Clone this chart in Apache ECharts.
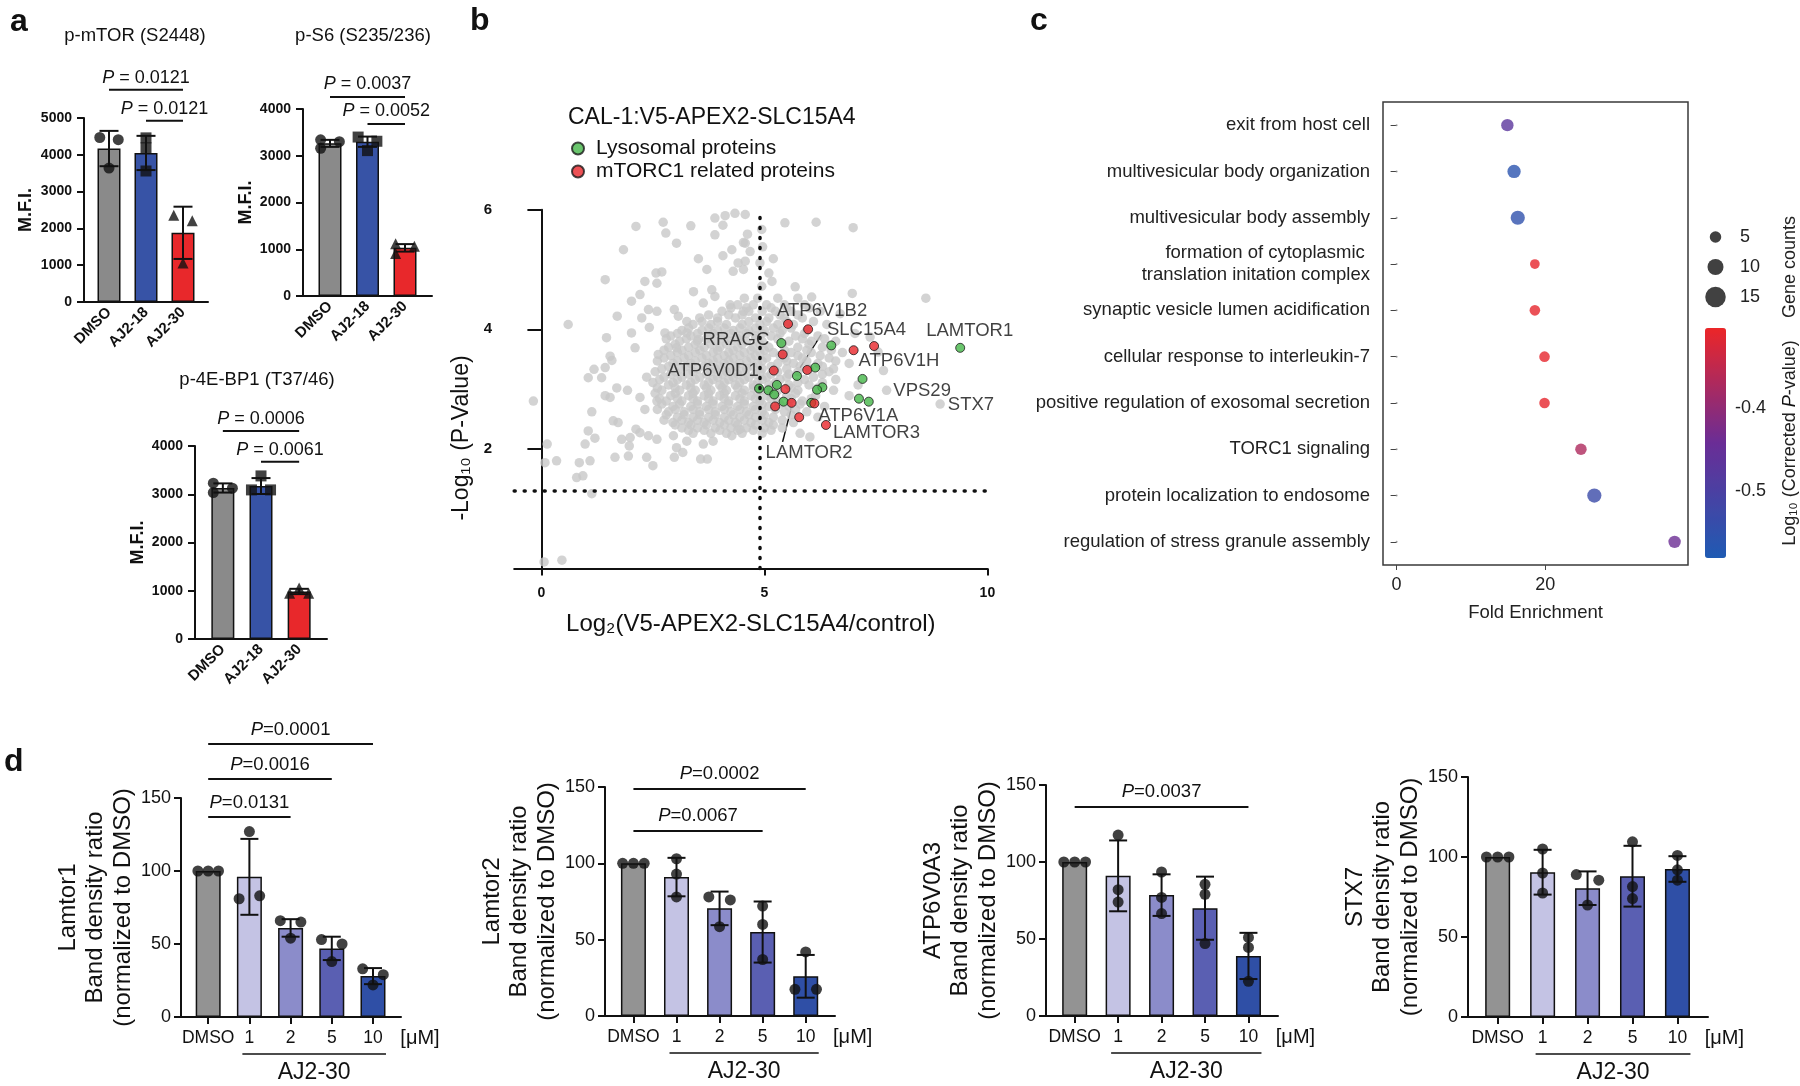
<!DOCTYPE html>
<html>
<head>
<meta charset="utf-8">
<title>AJ2-30 / SLC15A4 figure</title>
<script src="https://cdn.jsdelivr.net/npm/echarts@6/dist/echarts.min.js"></script>
<style>
  html, body { margin: 0; padding: 0; background: #fff; }
  #chart { width: 1800px; height: 1086px; }
</style>
</head>
<body>
<div id="chart"></div>
<script>
// ---------- panel a : M.F.I. per treatment ----------
const aGroups = ['DMSO', 'AJ2-18', 'AJ2-30'];

const mtorMean = [4170, 4050, 1880];
const mtorSd = [480, 465, 710];
const mtorPts = [[4470, 4410, 3640], [4460, 4190, 3560], [2360, 2210, 1060]];
const mtorSlots = [[-1, 1, 0], [0, 0, 0], [-1, 1, 0]];
const mtorSig = [[0, 2, '0.0121'], [1, 2, '0.0121']];

const s6Mean = [3265, 3300, 1030];
const s6Sd = [75, 110, 80];
const s6Pts = [[3340, 3160, 3300], [3400, 3310, 3110], [1120, 1065, 910]];
const s6Slots = [[-1, -1, 1], [-1, 1, 0], [-1, 1, -1]];
const s6Sig = [[0, 2, '0.0037'], [1, 2, '0.0052']];

const bp1Mean = [3130, 3170, 985];
const bp1Sd = [95, 165, 55];
const bp1Pts = [[3230, 3035, 3125], [3380, 3090, 3090], [950, 1055, 950]];
const bp1Slots = [[-1, -1, 1], [0, -1, 1], [-1, 0, 1]];
const bp1Sig = [[0, 2, '0.0006'], [1, 2, '0.0061']];

// ---------- panel b : proximity labelling volcano ----------
// sparse grey proteins [log2 ratio, -log10 p]
const grayPts = [
  [2.12, 5.72], [2.73, 5.79], [2.79, 5.61], [3.35, 5.73], [3.03, 5.44], [1.84, 5.33], [3.89, 5.86], [4.12, 5.90],
  [4.34, 5.94], [4.57, 5.92], [4.07, 5.74], [3.89, 5.58], [4.57, 5.44], [4.27, 5.33], [4.07, 5.23], [4.41, 5.11],
  [4.53, 5.00], [4.30, 4.97], [3.52, 5.18], [3.71, 5.00], [1.43, 4.83], [2.57, 4.94], [2.70, 4.96], [2.32, 4.80],
  [2.59, 4.77], [3.41, 4.63], [3.82, 4.66], [3.89, 4.55], [3.63, 4.44], [2.21, 4.58], [2.02, 4.47], [2.40, 4.33],
  [2.59, 4.30], [1.70, 4.22], [2.25, 4.19], [2.98, 4.33], [3.07, 4.22], [3.26, 4.13], [4.23, 4.41], [4.53, 4.30],
  [0.60, 4.08], [2.42, 4.03], [2.77, 3.94], [2.02, 3.94], [1.46, 3.86], [3.26, 3.94], [3.52, 3.83], [2.10, 3.69],
  [3.03, 3.69], [1.54, 3.55], [1.58, 3.48], [2.62, 3.58], [1.18, 3.33], [1.43, 3.36], [1.05, 3.19], [1.35, 3.19],
  [2.36, 3.20], [1.69, 3.02], [1.93, 2.98], [-0.18, 2.80], [1.43, 2.89], [1.54, 2.86], [2.21, 2.86], [2.32, 2.66],
  [2.59, 2.80], [1.13, 2.62], [1.61, 2.47], [1.72, 2.44], [2.12, 2.33], [2.21, 2.27], [1.05, 2.30], [1.20, 2.18],
  [1.80, 2.16], [1.99, 2.19], [2.40, 2.22], [2.59, 2.16], [1.97, 2.05], [0.98, 2.08], [0.13, 2.08], [0.34, 1.80],
  [0.08, 1.77], [0.85, 1.77], [1.09, 1.80], [1.65, 1.86], [1.95, 1.88], [2.36, 1.86], [2.50, 1.72], [2.98, 1.86],
  [3.17, 1.94], [3.57, 1.83], [3.72, 1.83], [0.79, 1.52], [0.93, 1.55], [1.13, 1.25], [0.06, 0.11], [0.46, 0.14],
  [4.27, 2.22], [4.45, 2.33], [3.85, 2.13], [3.63, 2.08], [3.26, 2.13], [2.96, 2.22], [3.03, 2.02],
  [5.46, 5.78], [6.16, 5.79], [6.99, 5.70], [8.62, 4.52], [4.62, 5.59], [4.53, 5.45], [4.57, 5.14], [4.68, 5.30],
  [5.20, 5.18], [5.69, 4.71], [6.06, 4.54], [6.70, 4.26], [7.03, 3.93], [7.37, 3.87], [7.55, 3.62], [7.67, 3.31],
  [6.02, 2.20], [5.10, 4.94], [4.94, 4.72], [5.17, 4.80], [6.97, 4.60], [4.90, 5.11], [4.96, 5.38], [4.94, 5.67]
];
// dense grey core, read row by row: [-log10 p, [log2 ratios...]]
const grayCoreRows = [
  [4.52, [4.55, 4.85, 5.3, 5.75]],
  [4.41, [4.4, 4.75, 5.05, 5.45, 5.9]],
  [4.36, [4.25, 4.6, 5.15, 5.5, 6.0]],
  [4.30, [4.05, 4.65, 4.95, 5.25, 5.6, 6.25]],
  [4.24, [3.75, 4.2, 4.5, 5.35, 5.75]],
  [4.19, [3.55, 3.95, 4.35, 4.8, 5.1, 5.45, 5.85]],
  [4.13, [3.6, 3.95, 4.65, 5.05, 5.5, 6.1]],
  [4.08, [3.4, 3.8, 4.15, 4.5, 4.9, 5.3, 5.65, 6.4]],
  [4.02, [3.3, 3.75, 4.1, 4.45, 4.8, 5.2, 5.6]],
  [3.98, [3.15, 3.6, 3.95, 4.3, 4.65, 5.0, 5.4, 5.95]],
  [3.93, [3.05, 3.5, 3.85, 4.25, 4.6, 4.95, 5.35, 5.9]],
  [3.89, [2.9, 3.35, 3.75, 4.1, 4.45, 4.8, 5.15, 5.7, 6.2]],
  [3.84, [2.8, 3.25, 3.7, 4.05, 4.4, 4.8, 5.3, 5.85, 6.35]],
  [3.80, [3.1, 3.5, 3.9, 4.25, 4.6, 4.95, 5.55, 6.05, 6.6]],
  [3.75, [3.0, 3.45, 3.8, 4.15, 4.5, 4.9, 5.4, 6.0]],
  [3.70, [2.85, 3.3, 3.65, 4.0, 4.4, 4.75, 5.1, 5.75, 6.3]],
  [3.65, [2.75, 3.15, 3.55, 3.95, 4.3, 4.7, 5.0, 5.45, 5.95, 6.5]],
  [3.61, [3.05, 3.45, 3.85, 4.2, 4.55, 4.9, 5.2, 5.6, 6.05, 6.75]],
  [3.56, [2.9, 3.3, 3.7, 4.1, 4.45, 4.8, 5.35, 5.75, 6.25]],
  [3.52, [2.75, 3.2, 3.6, 3.95, 4.3, 4.7, 5.05, 5.45, 5.85, 6.45]],
  [3.47, [2.6, 3.05, 3.45, 3.85, 4.2, 4.6, 4.95, 5.5, 5.95, 6.6]],
  [3.43, [2.95, 3.35, 3.75, 4.1, 4.45, 4.85, 5.3, 5.65, 6.2, 6.9]],
  [3.38, [2.85, 3.25, 3.65, 4.0, 4.35, 4.75, 5.15, 5.8, 6.3]],
  [3.34, [2.7, 3.1, 3.5, 3.9, 4.25, 4.6, 4.95, 5.5, 6.0, 6.55]],
  [3.29, [2.55, 3.0, 3.4, 3.8, 4.15, 4.5, 4.9, 5.3, 5.75, 6.45]],
  [3.25, [2.9, 3.3, 3.7, 4.05, 4.4, 4.8, 5.15, 5.55, 6.3]],
  [3.20, [2.75, 3.15, 3.55, 3.95, 4.3, 4.65, 5.05, 5.5, 6.1]],
  [3.16, [2.65, 3.05, 3.45, 3.85, 4.2, 4.55, 4.95, 5.35, 5.9, 6.6]],
  [3.11, [2.5, 2.95, 3.35, 3.75, 4.1, 4.45, 4.85, 5.25, 5.75, 6.3]],
  [3.07, [2.85, 3.25, 3.65, 4.0, 4.35, 4.75, 5.1, 5.55, 6.0, 7.1]],
  [3.02, [2.6, 3.0, 3.35, 3.7, 4.05, 4.4, 4.75, 5.15, 5.6, 6.2]],
  [2.98, [2.7, 3.1, 3.45, 3.8, 4.15, 4.55, 4.9, 5.3, 5.75, 6.55]],
  [2.93, [2.55, 3.0, 3.4, 3.75, 4.1, 4.5, 4.85, 5.25, 5.7]],
  [2.89, [2.9, 3.3, 3.65, 4.0, 4.35, 4.7, 5.05, 5.5, 6.15, 6.9]],
  [2.84, [2.65, 3.05, 3.4, 3.75, 4.1, 4.45, 4.8, 5.15, 5.6, 6.05]],
  [2.80, [2.8, 3.15, 3.5, 3.85, 4.2, 4.55, 4.9, 5.3, 5.85]],
  [2.75, [2.7, 3.1, 3.5, 3.85, 4.2, 4.55, 4.95, 5.35, 5.8]],
  [2.71, [2.95, 3.35, 3.7, 4.05, 4.4, 4.75, 5.1, 5.55, 6.35]],
  [2.66, [2.6, 3.0, 3.4, 3.75, 4.1, 4.45, 4.8, 5.25, 5.7]],
  [2.62, [2.85, 3.2, 3.55, 3.9, 4.25, 4.6, 4.95, 5.45, 5.95]],
  [2.57, [2.8, 3.2, 3.55, 3.9, 4.3, 4.65, 5.0, 5.6]],
  [2.53, [3.05, 3.4, 3.75, 4.1, 4.45, 4.8, 5.2, 6.2]],
  [2.48, [2.75, 3.15, 3.5, 3.85, 4.2, 4.55, 4.95, 5.4]],
  [2.44, [2.95, 3.3, 3.65, 4.0, 4.35, 4.7, 5.1, 5.65]],
  [2.40, [3.0, 3.35, 3.7, 4.1, 4.4, 4.8, 5.2]],
  [2.35, [3.15, 3.5, 3.9, 4.25, 4.6, 5.0, 5.4]],
  [2.31, [3.3, 3.65, 4.0, 4.4, 4.75, 5.15]],
  [2.26, [3.4, 3.8, 4.15, 4.5, 4.95, 5.8]]
];
const grayNamed = [[7.74, 2.98, 'VPS29'], [8.94, 2.75, 'STX7']];
const lysoPts = [
  [5.38, 3.77, 'RRAGC'], [6.50, 3.73, ''], [9.39, 3.69, 'LAMTOR1'], [6.14, 3.36, ''], [5.73, 3.22, 'SLC15A4'],
  [7.20, 3.17, ''], [5.28, 3.07, ''], [4.88, 3.01, ''], [5.09, 2.98, ''], [5.22, 2.91, ''], [6.30, 3.03, ''],
  [6.18, 2.99, ''], [7.12, 2.84, ''], [7.34, 2.79, ''], [5.43, 2.79, ''], [6.05, 2.77, '']
];
const mtorcPts = [
  [5.53, 4.09, 'ATP6V1B2'], [5.98, 4.00, ''], [7.46, 3.72, ''], [7.00, 3.65, 'ATP6V1H'], [5.41, 3.58, ''],
  [5.21, 3.31, 'ATP6V0D1'], [5.96, 3.32, ''], [5.47, 3.00, ''], [5.24, 2.71, ''], [5.61, 2.77, 'LAMTOR2'],
  [6.12, 2.76, 'ATP6V1A'], [5.78, 2.53, ''], [6.38, 2.40, 'LAMTOR3']
];
const foldCut = 4.9;
const pCut = 1.3;

// ---------- panel c : GO enrichment ----------
const goTerms = [
  'exit from host cell', 'multivesicular body organization', 'multivesicular body assembly',
  'formation of cytoplasmic \ntranslation initation complex', 'synaptic vesicle lumen acidification',
  'cellular response to interleukin-7', 'positive regulation of exosomal secretion', 'TORC1 signaling',
  'protein localization to endosome', 'regulation of stress granule assembly'
];
const goFold = [14.9, 15.8, 16.3, 18.6, 18.6, 19.9, 19.9, 24.8, 26.6, 37.4];
const goCounts = [6, 7, 8, 3, 4, 4, 4, 5, 8, 6];
const goLogP = [-0.47, -0.56, -0.55, -0.31, -0.31, -0.31, -0.31, -0.37, -0.53, -0.44];
const sizeKey = [5, 10, 15];

// ---------- panel d : band density ----------
const dDoses = ['DMSO', '1', '2', '5', '10'];

const lamtor1Mean = [100, 96, 61, 47, 28];
const lamtor1Sd = [0, 26, 6, 8, 5.5];
const lamtor1Pts = [[100, 100, 100], [127, 81, 83], [66, 65, 54], [53, 50, 38], [33, 29, 22]];
const lamtor1Slots = [[-1, 0, 1], [0, -1, 1], [-1, 1, 0], [-1, 1, 0], [-1, 1, 0]];
const lamtor1Sig = [[0, 4, '0.0001'], [0, 3, '0.0016'], [0, 2, '0.0131']];

const lamtor2Mean = [100, 91, 70.5, 55, 26];
const lamtor2Sd = [0, 12.6, 11, 20, 14];
const lamtor2Pts = [[100, 100, 100], [103, 93, 78], [78, 76, 58.5], [72, 60, 37], [42, 17.5, 17.5]];
const lamtor2Slots = [[-1, 0, 1], [0, 0, 0], [-1, 1, 0], [0, 0, 0], [0, -1, 1]];
const lamtor2Sig = [[0, 4, '0.0002'], [0, 3, '0.0067']];

const atpMean = [100, 91, 78.5, 70, 39];
const atpSd = [0, 23, 13.5, 20.5, 15];
const atpPts = [[100, 100, 100], [117.5, 82, 74], [93.5, 77, 66.5], [85.5, 79, 47], [51, 44.5, 22.5]];
const atpSlots = [[-1, 0, 1], [0, 0, 0], [0, 0, 0], [0, 0, 0], [0, 0, 0]];
const atpSig = [[0, 4, '0.0037']];

const stx7Mean = [100, 90.5, 80.5, 88, 92.5];
const stx7Sd = [0, 14, 10.5, 19, 8];
const stx7Pts = [[100, 100, 100], [105, 90, 77.5], [89, 85.5, 70], [109.5, 81.5, 74], [101, 92, 85.5]];
const stx7Slots = [[-1, 0, 1], [0, 0, 0], [-1, 1, 0], [0, 0, 0], [0, 0, 0]];

// ---------- styling ----------
const INK = '#111';
const FONT = '"Liberation Sans", Arial, Helvetica, sans-serif';
const aColors = ['#8a8a8a', '#3753a6', '#e8282b'];
const aShapes = ['circle', 'rect', 'triangle'];
const dColors = ['#939393', '#c4c3e4', '#8b8cca', '#5a5fb2', '#2f4fa6'];
const lineSt = { color: INK, width: 2 };

const chart = echarts.init(document.getElementById('chart'), null, { renderer: 'canvas' });
const grids = [], xAxes = [], yAxes = [], series = [];

function errorBars(cap) {
  return function (params, api) {
    const x = api.value(0), m = api.value(1), s = api.value(2);
    if (!s) return { type: 'group', children: [] };
    const hi = api.coord([x, m + s]), lo = api.coord([x, m - s]);
    const st = { stroke: INK, lineWidth: 2 };
    return { type: 'group', children: [
      { type: 'line', shape: { x1: hi[0], y1: hi[1], x2: lo[0], y2: lo[1] }, style: st },
      { type: 'line', shape: { x1: hi[0] - cap, y1: hi[1], x2: hi[0] + cap, y2: hi[1] }, style: st },
      { type: 'line', shape: { x1: lo[0] - cap, y1: lo[1], x2: lo[0] + cap, y2: lo[1] }, style: st }
    ] };
  };
}

function addBarPanel(o) {
  const g = grids.length;
  const idx = o.cats.map((c, i) => i);
  grids.push({ left: o.left, top: o.top, width: o.width, height: o.height });
  xAxes.push({
    type: 'value', gridIndex: g, min: o.xmin, max: o.xmax,
    axisLine: { onZero: false, lineStyle: lineSt },
    axisTick: { show: o.xTicks, customValues: idx, length: 7, lineStyle: lineSt },
    axisLabel: {
      customValues: idx, formatter: v => o.cats[Math.round(v)], rotate: o.rotate || 0,
      fontSize: o.xFont, fontWeight: o.xBold ? 'bold' : 'normal', color: INK, fontFamily: FONT, margin: o.xMargin
    },
    splitLine: { show: false }
  });
  yAxes.push({
    type: 'value', gridIndex: g, min: 0, max: o.ymax, interval: o.yStep,
    name: o.yName, nameLocation: 'middle', nameGap: o.nameGap, nameRotate: 90,
    nameTextStyle: { fontSize: o.nameFont, fontWeight: o.nameBold ? 'bold' : 'normal', color: INK, fontFamily: FONT, lineHeight: o.nameLine, align: 'center' },
    axisLine: { show: true, onZero: false, lineStyle: lineSt },
    axisTick: { show: true, length: 7, lineStyle: lineSt },
    axisLabel: { formatter: v => String(v), fontSize: o.yFont, fontWeight: o.yBold ? 'bold' : 'normal', color: INK, fontFamily: FONT, margin: o.yMargin },
    splitLine: { show: false }
  });
  series.push({
    type: 'bar', xAxisIndex: g, yAxisIndex: g, barWidth: o.barWidth, silent: true, z: 2,
    itemStyle: { borderColor: INK, borderWidth: 1.5 },
    data: o.mean.map((m, i) => ({ value: [i, m], itemStyle: { color: o.colors[i] } }))
  });
  series.push({
    type: 'custom', xAxisIndex: g, yAxisIndex: g, silent: true, z: 4,
    encode: { x: 0, y: 1 },
    renderItem: errorBars(o.cap),
    data: o.mean.map((m, i) => [i, m, o.sd[i]])
  });
  const pts = [];
  o.pts.forEach((grp, i) => grp.forEach((v, k) => {
    pts.push({ value: [i + o.slots[i][k] * 0.25, v], symbol: o.shapes ? o.shapes[i] : 'circle' });
  }));
  series.push({
    type: 'scatter', xAxisIndex: g, yAxisIndex: g, silent: true, z: 3,
    symbolSize: o.ptSize, itemStyle: { color: INK }, data: pts
  });
  return g;
}

// ----- panel a grids -----
const aCommon = {
  cats: aGroups, colors: aColors, shapes: aShapes, yStep: 1000, barWidth: 23, cap: 9.5, ptSize: 11,
  xTicks: false, rotate: 45, xFont: 15, xBold: true, xMargin: 8, yFont: 14, yBold: true, yMargin: 12,
  yName: 'M.F.I.', nameFont: 18, nameBold: true, nameLine: 20
};
const gA1 = addBarPanel(Object.assign({}, aCommon, { left: 84, top: 118, width: 124, height: 184, xmin: -0.676, xmax: 2.676, ymax: 5000, nameGap: 48, mean: mtorMean, sd: mtorSd, pts: mtorPts, slots: mtorSlots }));
const gA2 = addBarPanel(Object.assign({}, aCommon, { left: 303, top: 109, width: 129, height: 187, xmin: -0.72, xmax: 2.72, ymax: 4000, nameGap: 47, mean: s6Mean, sd: s6Sd, pts: s6Pts, slots: s6Slots }));
const gA3 = addBarPanel(Object.assign({}, aCommon, { left: 195, top: 446, width: 132, height: 193, xmin: -0.73, xmax: 2.73, ymax: 4000, nameGap: 46, mean: bp1Mean, sd: bp1Sd, pts: bp1Pts, slots: bp1Slots }));

// ----- panel b : volcano -----
const gB = grids.length;
grids.push({ left: 514.2, top: 209.7, width: 473.2, height: 358.8 });
xAxes.push({
  type: 'value', gridIndex: gB, min: -0.61, max: 10,
  axisLine: { onZero: false, lineStyle: lineSt },
  axisTick: { customValues: [0, 5, 10], length: 7, lineStyle: lineSt },
  axisLabel: { customValues: [0, 5, 10], fontSize: 14, fontWeight: 'bold', color: INK, fontFamily: FONT, margin: 18 },
  splitLine: { show: false },
  name: 'Log\u2082(V5-APEX2-SLC15A4/control)', nameLocation: 'middle', nameGap: 44,
  nameTextStyle: { fontSize: 24, color: INK, fontFamily: FONT }
});
yAxes.push({
  type: 'value', gridIndex: gB, min: 0, max: 6, interval: 2,
  axisLine: { show: true, onZero: true, lineStyle: lineSt },
  axisTick: { show: true, length: 14, lineStyle: lineSt },
  axisLabel: { formatter: v => (v === 0 ? '' : String(v)), fontSize: 15, fontWeight: 'bold', color: INK, fontFamily: FONT, margin: 22 },
  splitLine: { show: false }
});
const labelShift = {
  ATP6V1B2: [-21, -13], SLC15A4: [20, -46], LAMTOR1: [-44, -17], RRAGC: [-2, -3], ATP6V0D1: [-5, 0],
  ATP6V1H: [-5, 11], VPS29: [-3, 1], STX7: [-2, 1], ATP6V1A: [-6, 12], LAMTOR3: [-3, 8], LAMTOR2: [-36, 50]
};
const labelLeft = ['RRAGC', 'ATP6V0D1'];
const volcLabel = { show: false, formatter: '{b}', fontSize: 18.5, color: INK, fontFamily: FONT, distance: 5 };
const volcLayout = p => { const s = labelShift[p.text]; return s ? { dx: s[0], dy: s[1] } : {}; };
function volcItem(p) {
  const it = { value: [p[0], p[1]], name: p[2] || '' };
  if (p[2]) it.label = { show: true, position: labelLeft.indexOf(p[2]) >= 0 ? 'left' : 'right' };
  return it;
}
const grayAll = grayPts.slice();
grayCoreRows.forEach(r => r[1].forEach(x => grayAll.push([x, r[0]])));
series.push({
  type: 'scatter', xAxisIndex: gB, yAxisIndex: gB, silent: true, z: 2, symbolSize: 9.5,
  itemStyle: { color: '#c8c8c8' }, label: volcLabel, labelLayout: volcLayout,
  data: grayAll.map(p => ({ value: p })).concat(grayNamed.map(volcItem)),
  markLine: {
    silent: true, symbol: 'none', label: { show: false }, animation: false,
    lineStyle: { color: INK, type: [1, 9], width: 3.5, cap: 'round' },
    data: [{ xAxis: foldCut }, { yAxis: pCut }]
  }
});
series.push({
  type: 'scatter', name: 'Lysosomal proteins', xAxisIndex: gB, yAxisIndex: gB, silent: true, z: 3, symbolSize: 9,
  itemStyle: { color: '#45b649', borderColor: '#1a1a1a', borderWidth: 1 },
  label: volcLabel, labelLayout: volcLayout, data: lysoPts.map(volcItem)
});
series.push({
  type: 'scatter', name: 'mTORC1 related proteins', xAxisIndex: gB, yAxisIndex: gB, silent: true, z: 4, symbolSize: 9,
  itemStyle: { color: '#e8262a', borderColor: '#1a1a1a', borderWidth: 1 },
  label: volcLabel, labelLayout: volcLayout, data: mtorcPts.map(volcItem)
});

// ----- panel c : GO dot plot -----
const dotSize = v => 7 + 0.9 * v[2];
const gC = grids.length;
grids.push({ left: 1383, top: 102, width: 305, height: 463, show: true, borderColor: '#3a3a3a', borderWidth: 1.5 });
xAxes.push({
  type: 'value', gridIndex: gC, min: -1.83, max: 39.2,
  axisLine: { show: false },
  axisTick: { show: true, customValues: [0, 20], length: 5, lineStyle: { color: '#444', width: 1 } },
  axisLabel: { customValues: [0, 20], fontSize: 18, color: '#222', fontFamily: FONT, margin: 11 },
  splitLine: { show: false },
  name: 'Fold Enrichment', nameLocation: 'middle', nameGap: 38,
  nameTextStyle: { fontSize: 18.5, color: '#222', fontFamily: FONT }
});
yAxes.push({
  type: 'category', gridIndex: gC, data: goTerms, inverse: true,
  axisLine: { show: false },
  axisTick: { show: true, alignWithLabel: true, length: 6, lineStyle: { color: '#444', width: 1 } },
  axisLabel: { fontSize: 18.5, color: '#222', fontFamily: FONT, margin: 13, lineHeight: 22 },
  splitLine: { show: false }
});
series.push({
  type: 'scatter', xAxisIndex: gC, yAxisIndex: gC, silent: true, z: 2, symbolSize: 2,
  itemStyle: { color: '#8a8a8a' }, data: goTerms.map((t, i) => [0, i])
});
const goSeriesIndex = series.length;
series.push({
  type: 'scatter', xAxisIndex: gC, yAxisIndex: gC, silent: true, z: 3, symbolSize: dotSize,
  data: goFold.map((f, i) => [f, i, goCounts[i], goLogP[i]])
});
// gene-count size key
const gKey = grids.length;
grids.push({ left: 1705, top: 222, width: 21, height: 90 });
xAxes.push({ type: 'value', gridIndex: gKey, min: -1, max: 1, show: false });
yAxes.push({
  type: 'category', gridIndex: gKey, data: sizeKey.map(String), inverse: true, position: 'right',
  axisLine: { show: false }, axisTick: { show: false },
  axisLabel: { fontSize: 18, color: '#222', fontFamily: FONT, margin: 14 }
});
series.push({
  type: 'scatter', xAxisIndex: gKey, yAxisIndex: gKey, silent: true, symbolSize: dotSize,
  itemStyle: { color: INK }, data: sizeKey.map((s, i) => [0, i, s])
});
// colour-bar tick axis
const gBar = grids.length;
grids.push({ left: 1705, top: 328, width: 21, height: 230 });
xAxes.push({ type: 'value', gridIndex: gBar, min: 0, max: 1, show: false });
yAxes.push({
  type: 'value', gridIndex: gBar, min: -0.58, max: -0.304, position: 'right',
  axisLine: { show: false },
  axisTick: { show: true, customValues: [-0.5, -0.4], length: 5, lineStyle: { color: '#333', width: 1 } },
  axisLabel: { customValues: [-0.5, -0.4], formatter: v => v.toFixed(1), fontSize: 18, color: '#222', fontFamily: FONT, margin: 9 },
  splitLine: { show: false }
});

// ----- panel d grids -----
const dCommon = {
  cats: dDoses, colors: dColors, yStep: 50, ymax: 150, barWidth: 25, cap: 9, ptSize: 11,
  xTicks: true, xFont: 17.5, xMargin: 12, yFont: 18, yMargin: 10, xmin: -0.66, xmax: 4.68,
  nameFont: 24, nameLine: 27.5, nameGap: 42
};
const gD1 = addBarPanel(Object.assign({}, dCommon, { left: 181, top: 798, width: 220, height: 219, yName: 'Lamtor1\nBand density ratio\n(normalized to DMSO)', mean: lamtor1Mean, sd: lamtor1Sd, pts: lamtor1Pts, slots: lamtor1Slots }));
const gD2 = addBarPanel(Object.assign({}, dCommon, { left: 605, top: 787, width: 230, height: 229, yName: 'Lamtor2\nBand density ratio\n(normalized to DMSO)', mean: lamtor2Mean, sd: lamtor2Sd, pts: lamtor2Pts, slots: lamtor2Slots }));
const gD3 = addBarPanel(Object.assign({}, dCommon, { left: 1046, top: 785, width: 232, height: 231, yName: 'ATP6V0A3\nBand density ratio\n(normalized to DMSO)', mean: atpMean, sd: atpSd, pts: atpPts, slots: atpSlots }));
const gD4 = addBarPanel(Object.assign({}, dCommon, { left: 1468, top: 777, width: 240, height: 240, yName: 'STX7\nBand density ratio\n(normalized to DMSO)', mean: stx7Mean, sd: stx7Sd, pts: stx7Pts, slots: stx7Slots }));

chart.setOption({
  animation: false,
  textStyle: { fontFamily: FONT },
  grid: grids, xAxis: xAxes, yAxis: yAxes, series: series,
  legend: {
    data: ['Lysosomal proteins', 'mTORC1 related proteins'], orient: 'vertical', left: 566, top: 133,
    itemWidth: 12, itemHeight: 12, itemGap: 2, icon: 'circle', selectedMode: false,
    textStyle: { fontSize: 21, color: INK, fontFamily: FONT, padding: [0, 0, 0, 7] }
  },
  visualMap: [{
    type: 'continuous', seriesIndex: goSeriesIndex, dimension: 3, min: -0.58, max: -0.304,
    inRange: { color: ['#1f5bb3', '#6a2d96', '#ec2628'] }, calculable: false, orient: 'vertical',
    left: 1705, top: 328, itemWidth: 21, itemHeight: 230, padding: 0, hoverLink: false
  }]
});

// ---------- annotations placed through the axes ----------
const gfx = [];
const richP = fs => ({ i: { fontStyle: 'italic', fontSize: fs, fontFamily: FONT, fill: INK } });
function addText(x, y, text, fs, extra) {
  gfx.push(Object.assign({
    type: 'text', x: x, y: y, silent: true,
    style: Object.assign({ text: text, fontSize: fs, fontFamily: FONT, fill: INK, align: 'center', verticalAlign: 'middle' }, (extra && extra.style) || {})
  }, (extra && extra.el) || {}));
}
function addLine(x1, y1, x2, y2, w) {
  gfx.push({ type: 'line', silent: true, shape: { x1, y1, x2, y2 }, style: { stroke: INK, lineWidth: w || 2 } });
}
function addSig(g, sig, levels, fs, eq, gap) {
  sig.forEach((s, k) => {
    const a = chart.convertToPixel({ gridIndex: g }, [s[0], levels[k]]);
    const b = chart.convertToPixel({ gridIndex: g }, [s[1], levels[k]]);
    addLine(a[0], a[1], b[0], b[1], 2);
    addText((a[0] + b[0]) / 2, a[1] - gap, '{i|P}' + eq + s[2], fs, { style: { rich: richP(fs) } });
  });
}
addSig(gA1, mtorSig, [5770, 4925], 18, ' = ', 12);
addSig(gA2, s6Sig, [4258, 3680], 18, ' = ', 13);
addSig(gA3, bp1Sig, [4313, 3671], 18, ' = ', 12);
addSig(gD1, lamtor1Sig, [187, 163, 137], 18.5, '=', 14);
addSig(gD2, lamtor2Sig, [148.7, 121.2], 18.5, '=', 15);
addSig(gD3, atpSig, [135.7], 18.5, '=', 15);

[gD1, gD2, gD3, gD4].forEach(g => {
  const p1 = chart.convertToPixel({ gridIndex: g }, [1, 0]);
  const p4 = chart.convertToPixel({ gridIndex: g }, [4, 0]);
  const x1 = p1[0] - 7, x2 = p4[0] + 13, base = p1[1];
  addLine(x1, base + 37, x2, base + 37, 1.5);
  addText((x1 + x2) / 2, base + 56, 'AJ2-30', 23);
  addText(p4[0] + 47, base + 21, '[\u03bcM]', 20);
});

// volcano leader lines
[['SLC15A4', lysoPts, [3, -8], [24, -41]], ['LAMTOR2', mtorcPts, [0, 4], [-9, 39]]].forEach(d => {
  const p = d[1].find(q => q[2] === d[0]);
  const c = chart.convertToPixel({ gridIndex: gB }, [p[0], p[1]]);
  addLine(c[0] + d[2][0], c[1] + d[2][1], c[0] + d[3][0], c[1] + d[3][1], 1.5);
});

// titles and panel letters
addText(135, 36, 'p-mTOR (S2448)', 18.5);
addText(363, 36, 'p-S6 (S235/236)', 18.5);
addText(257, 380, 'p-4E-BP1 (T37/46)', 18.5);
addText(568, 118, 'CAL-1:V5-APEX2-SLC15A4', 23, { style: { align: 'left' } });
addText(462, 438, '-Log\u2081\u2080 (P-Value)', 23, { el: { rotation: Math.PI / 2 } });
addText(1790, 267, 'Gene counts', 18, { el: { rotation: Math.PI / 2 }, style: { fill: '#222' } });
addText(1790, 443, 'Log\u2081\u2080 (Corrected {i|P}-value)', 18, { el: { rotation: Math.PI / 2 }, style: { fill: '#222', rich: richP(18) } });
[['a', 10, 22], ['b', 470, 21], ['c', 1030, 21], ['d', 4, 762]].forEach(l => {
  addText(l[1], l[2], l[0], 32, { style: { align: 'left', fontWeight: 'bold' } });
});

chart.setOption({ graphic: { elements: gfx } });
</script>
</body>
</html>
